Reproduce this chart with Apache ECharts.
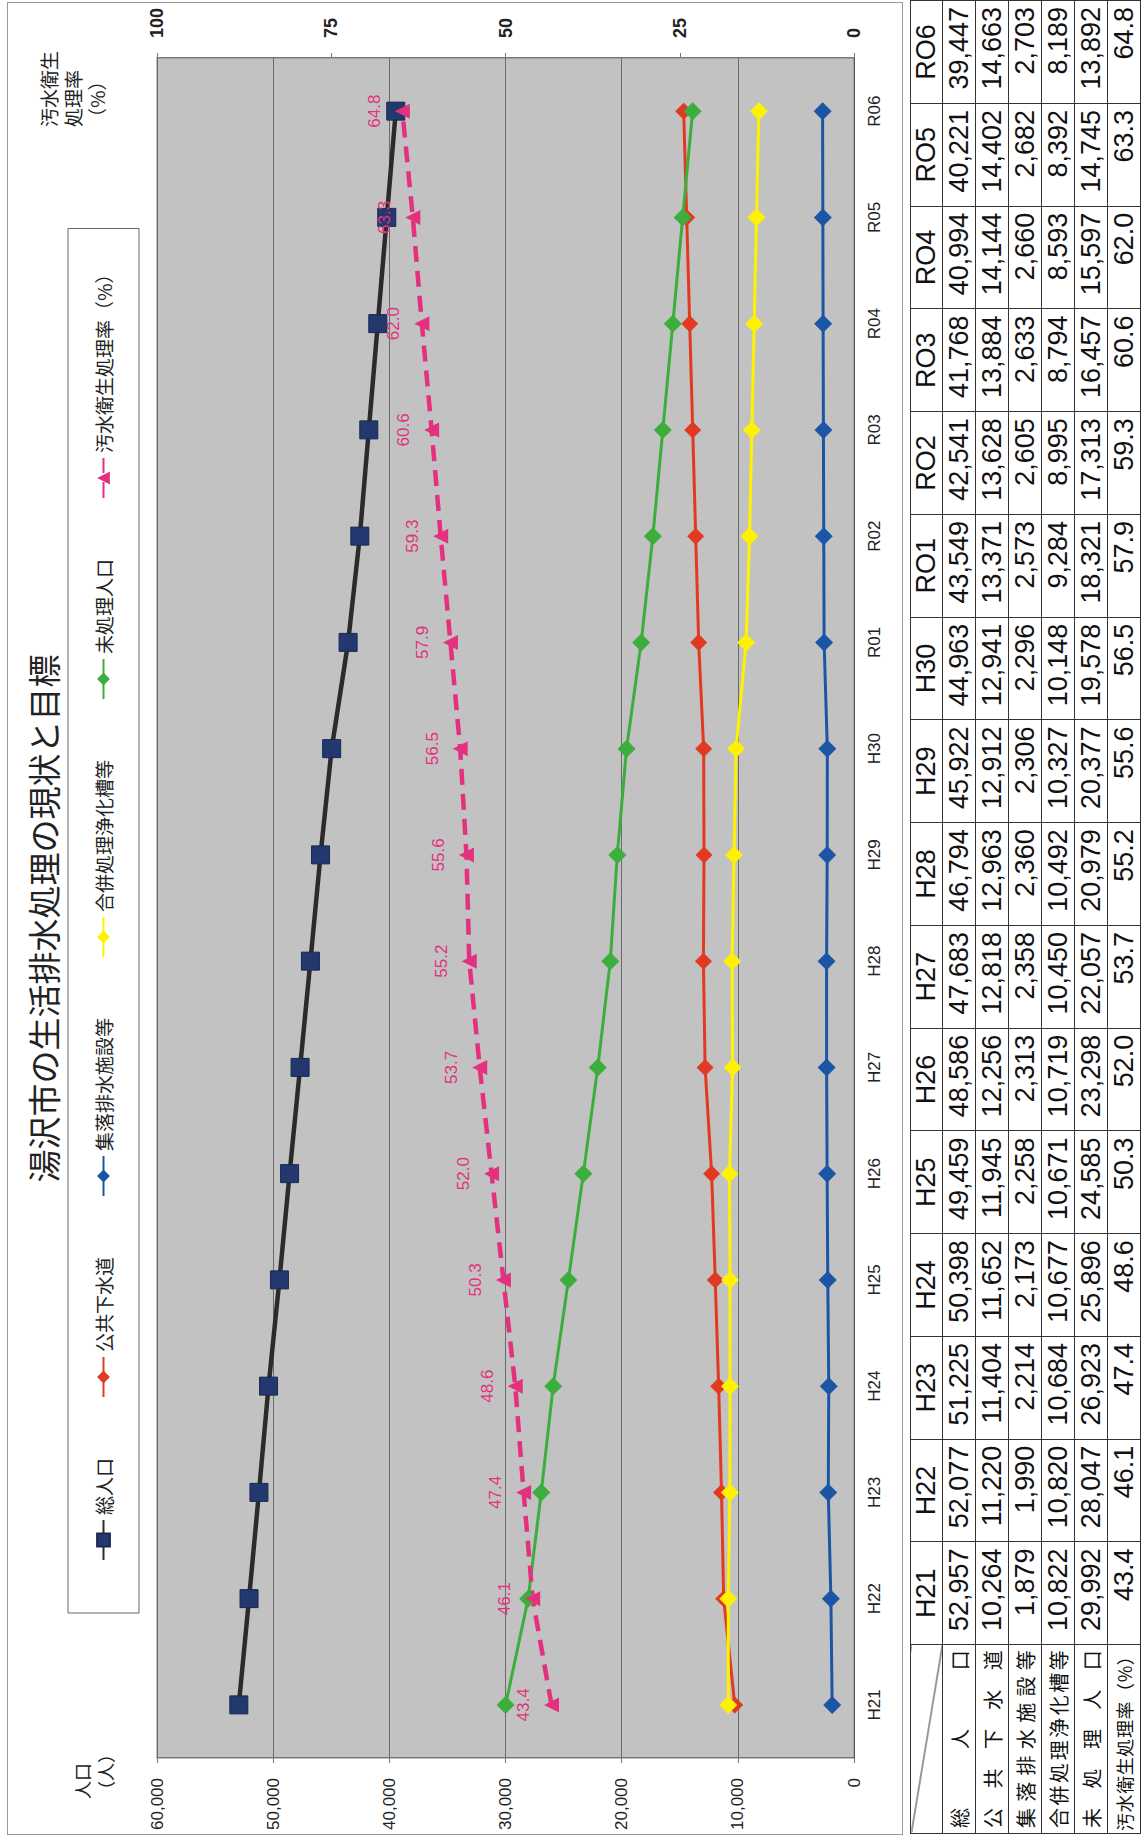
<!DOCTYPE html>
<html>
<head>
<meta charset="utf-8">
<script src="https://cdn.jsdelivr.net/npm/echarts@6/dist/echarts.min.js"></script>
<style>
  html, body { margin: 0; padding: 0; background: #fff; }
  body { width: 1142px; height: 1837px; overflow: hidden; position: relative; }
  /* the page is laid out landscape and turned a quarter turn to the left */
  #page {
    position: absolute; left: 0; top: 0;
    width: 1837px; height: 1142px; overflow: hidden;
    transform-origin: 0 0;
    transform: translateY(1837px) rotate(-90deg);
    background: #fff;
  }
  #frame {
    position: absolute; left: 2px; top: 7px; width: 1831px; height: 894px;
    border: 1px solid #9a9a9a;
  }
  #chart { position: absolute; left: 0; top: 0; width: 1837px; height: 905px; }
  #tbl {
    position: absolute; left: 3px; top: 910px;
    border-collapse: collapse; table-layout: fixed;
    font-family: "Liberation Sans Narrow", "Arial Narrow", "Liberation Sans", sans-serif;
    color: #111;
  }
  #tbl td { border: 1.5px solid #333; padding: 0 6px; font-size: 27px; white-space: nowrap; }
  #tbl tr.head td { height: 30px; text-align: center; }
  #tbl tr.row td { height: 32px; text-align: right; }
  #tbl td.lab {
    font-family: "Noto Sans CJK JP", sans-serif; font-size: 20px;
    text-align: justify; text-align-last: justify; padding: 0 5px;
  }
  #tbl td.small { font-size: 18px; padding: 0 2px; }
  #tbl td.diag {
    background: linear-gradient(to top right, transparent calc(50% - 1px), #333 50%, transparent calc(50% + 1px));
  }
</style>
</head>
<body>
<div id="page">
  <div id="frame"></div>
  <div id="chart"></div>
  <table id="tbl"></table>
</div>
<script>
// 年度
var categories = ['H21','H22','H23','H24','H25','H26','H27','H28','H29','H30','R01','R02','R03','R04','R05','R06'];
var tableYears = ['H21','H22','H23','H24','H25','H26','H27','H28','H29','H30','RO1','RO2','RO3','RO4','RO5','RO6'];

// 人口（人）
var totalPop    = [52957,52077,51225,50398,49459,48586,47683,46794,45922,44963,43549,42541,41768,40994,40221,39447];
var publicSewer = [10264,11220,11404,11652,11945,12256,12818,12963,12912,12941,13371,13628,13884,14144,14402,14663];
var ruralDrain  = [1879,1990,2214,2173,2258,2313,2358,2360,2306,2296,2573,2605,2633,2660,2682,2703];
var septicTank  = [10822,10820,10684,10677,10671,10719,10450,10492,10327,10148,9284,8995,8794,8593,8392,8189];
var untreated   = [29992,28047,26923,25896,24585,23298,22057,20979,20377,19578,18321,17313,16457,15597,14745,13892];
// 汚水衛生処理率（%）
var treatRate   = [43.4,46.1,47.4,48.6,50.3,52.0,53.7,55.2,55.6,56.5,57.9,59.3,60.6,62.0,63.3,64.8];

var popTicks  = [0, 60000, 10000];   // min, max, interval
var rateTicks = [0, 100, 25];

var rowLabels = ['総人口','公共下水道','集落排水施設等','合併処理浄化槽等','未処理人口','汚水衛生処理率（%）'];

function comma(v) { return Number(v).toLocaleString('en-US'); }

// 表
(function () {
  var rows = [totalPop, publicSewer, ruralDrain, septicTank, untreated, treatRate];
  var html = '<colgroup><col style="width:189px">';
  for (var i = 0; i < tableYears.length; i++) html += '<col style="width:103px">';
  html += '</colgroup><tr class="head"><td class="diag"></td>';
  tableYears.forEach(function (y) { html += '<td>' + y + '</td>'; });
  html += '</tr>';
  rows.forEach(function (r, k) {
    html += '<tr class="row"><td class="lab' + (k === 5 ? ' small' : '') + '">' + rowLabels[k] + '</td>';
    r.forEach(function (v) { html += '<td>' + (k === 5 ? v.toFixed(1) : comma(v)) + '</td>'; });
    html += '</tr>';
  });
  document.getElementById('tbl').innerHTML = html;
})();

var chart = echarts.init(document.getElementById('chart'), null, { renderer: 'svg' });

var lineSeries = function (name, data, color, symbol, size, width) {
  return {
    name: name, type: 'line', data: data,
    symbol: symbol, symbolSize: size,
    lineStyle: { color: color, width: width },
    itemStyle: { color: color },
    emphasis: { disabled: true }
  };
};

var total = lineSeries('総人口', totalPop, '#2b2b2b', 'rect', 18, 4.5);
total.itemStyle = { color: '#22386e', borderColor: '#1a2850', borderWidth: 1 };

var rate = lineSeries('汚水衛生処理率（%）', treatRate, '#e3317f', 'triangle', 15, 4.5);
rate.yAxisIndex = 1;
rate.lineStyle.type = [16, 9];
rate.label = { show: true, position: 'top', distance: 12, color: '#e3317f', fontSize: 17, fontFamily: 'Liberation Sans',
  formatter: function (p) { return p.value.toFixed(1); } };

var option = {
  animation: false,
  textStyle: { fontFamily: 'Liberation Sans' },
  title: {
    text: '湯沢市の生活排水処理の現状と目標',
    left: 'center', top: 26, padding: 0,
    textStyle: { fontFamily: 'Noto Sans CJK JP', fontSize: 33, fontWeight: 'normal', color: '#222' }
  },
  legend: {
    left: 224, top: 68,
    padding: [26, 36, 26, 52],
    borderColor: '#666', borderWidth: 1,
    itemWidth: 40, itemHeight: 16, itemGap: 60,
    textStyle: { fontFamily: 'Noto Sans CJK JP', fontSize: 19, color: '#222' }
  },
  grid: {
    left: 79, right: 58, top: 157, bottom: 51,
    show: true, backgroundColor: '#c2c2c2', borderColor: '#808080', borderWidth: 1
  },
  graphic: [
    { type: 'text', left: 38, top: 70, style: { text: '人口\n（人）', fontFamily: 'Noto Sans CJK JP', fontSize: 18, lineHeight: 23, fill: '#222', align: 'center' } },
    { type: 'text', left: 1710, top: 36, style: { text: '汚水衛生\n処理率\n（%）', fontFamily: 'Noto Sans CJK JP', fontSize: 19, lineHeight: 24, fill: '#222', align: 'center' } }
  ],
  xAxis: {
    type: 'category', data: categories, boundaryGap: true,
    axisLine: { lineStyle: { color: '#555' } },
    axisTick: { inside: true, length: 6, lineStyle: { color: '#555' } },
    axisLabel: { fontSize: 17, color: '#222', margin: 12 }
  },
  yAxis: [
    {
      type: 'value', position: 'left', min: popTicks[0], max: popTicks[1], interval: popTicks[2],
      axisLine: { show: true, lineStyle: { color: '#777' } },
      axisTick: { show: true, length: 5, lineStyle: { color: '#777' } },
      splitLine: { lineStyle: { color: '#6a6a6a', width: 1 } },
      axisLabel: { fontSize: 17, color: '#222', margin: 20, formatter: comma }
    },
    {
      type: 'value', position: 'right', min: rateTicks[0], max: rateTicks[1], interval: rateTicks[2],
      axisLine: { show: true, lineStyle: { color: '#777' } },
      axisTick: { show: true, length: 5, lineStyle: { color: '#777' } },
      splitLine: { show: false },
      axisLabel: { fontSize: 18, color: '#222', margin: 20, fontWeight: 'bold' }
    }
  ],
  series: [
    total,
    lineSeries('公共下水道', publicSewer, '#e23a22', 'diamond', 17, 3),
    lineSeries('集落排水施設等', ruralDrain, '#1b56a6', 'diamond', 18, 3),
    lineSeries('合併処理浄化槽等', septicTank, '#fff200', 'diamond', 18, 3),
    lineSeries('未処理人口', untreated, '#3cae3c', 'diamond', 18, 3),
    rate
  ]
};
chart.setOption(option);
</script>
</body>
</html>
